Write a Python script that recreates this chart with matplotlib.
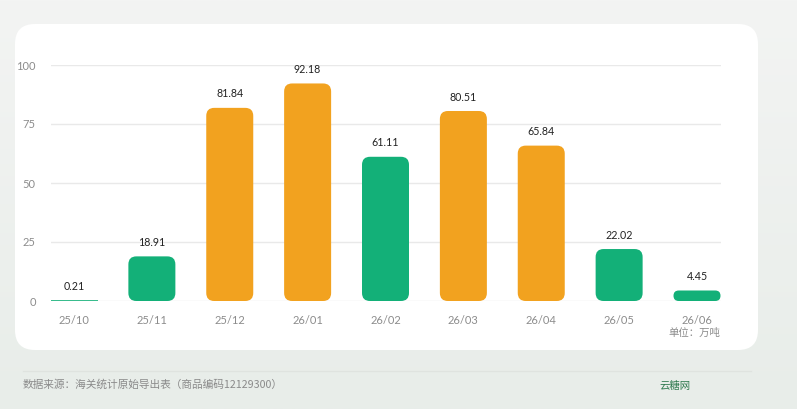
import matplotlib.pyplot as plt
import numpy as np
from matplotlib.patches import FancyBboxPatch
from matplotlib.colors import LinearSegmentedColormap

plt.rcParams['font.family'] = ['Lato', 'Noto Sans CJK SC', 'DejaVu Sans']

months = ['25/10', '25/11', '25/12', '26/01', '26/02', '26/03', '26/04', '26/05', '26/06']
values = [0.21, 18.91, 81.84, 92.18, 61.11, 80.51, 65.84, 22.02, 4.45]
colors = ['#13b078', '#13b078', '#f2a21f', '#f2a21f', '#13b078',
          '#f2a21f', '#f2a21f', '#13b078', '#13b078']
yticks = [0, 25, 50, 75, 100]

W, H = 797, 409
fig = plt.figure(figsize=(W / 100, H / 100), dpi=100)

# background gradient
bg = fig.add_axes([0, 0, 1, 1], zorder=-2)
grad = np.linspace(0, 1, 256).reshape(-1, 1)
cmap = LinearSegmentedColormap.from_list('bg', ['#f3f4f3', '#e8ede9'])
bg.imshow(grad, aspect='auto', cmap=cmap, extent=[0, 1, 0, 1])
bg.set_axis_off()

# white card
card = FancyBboxPatch((0.15, 0.59), 7.43, 3.26,
                      boxstyle='round,pad=0,rounding_size=0.2',
                      transform=fig.dpi_scale_trans, facecolor='white',
                      edgecolor='none', zorder=-1)
fig.patches.append(card)

x0px, x1px = 51, 721
ytop, ybot = 65, 301
ax = fig.add_axes([x0px / W, 1 - ybot / H, (x1px - x0px) / W, (ybot - ytop) / H])
ax.set_facecolor('none')

spacing = (697 - 74) / 8
ax.set_xlim((x0px - 74) / spacing, (x1px - 74) / spacing)
ax.set_ylim(0, 100)

px_x = 1 / spacing          # data units per pixel in x
px_y = 100 / (ybot - ytop)  # data units per pixel in y
bw = 47 * px_x

x = np.arange(len(months))
for xi, v, c in zip(x, values, colors):
    h_px = v / px_y
    r_px = min(8, h_px / 2, 23.5)
    if h_px < 1.5:
        ax.plot([xi - bw / 2, xi + bw / 2], [v, v], color=c, lw=1.2,
                solid_capstyle='butt', zorder=3)
    else:
        p = FancyBboxPatch((xi - bw / 2, 0), bw, v,
                           boxstyle=f'round,pad=0,rounding_size={r_px * px_x}',
                           mutation_aspect=px_y / px_x,
                           facecolor=c, edgecolor='none', zorder=3)
        ax.add_patch(p)
    ax.annotate(f'{v:.2f}', (xi, v), xytext=(0, 10), textcoords='offset points',
                ha='center', va='center', fontsize=7.7, color='#222222')

ax.set_yticks(yticks)
ax.set_yticklabels([str(t) for t in yticks])
ax.set_xticks(x)
ax.set_xticklabels(months)
ax.grid(axis='y', color='#e9e9e9', lw=1)
ax.set_axisbelow(True)
for s in ax.spines.values():
    s.set_visible(False)
ax.tick_params(axis='both', length=0, colors='#8c8c8c', labelsize=8)
ax.tick_params(axis='y', pad=11)
ax.tick_params(axis='x', pad=10)

fig.text(720 / W, 1 - 333 / H, '单位：万吨', ha='right', va='center',
         fontsize=7.5, color='#8c8c8c')

# footer
fig.add_artist(plt.Line2D([23 / W, 751 / W], [1 - 371 / H, 1 - 371 / H],
                          transform=fig.transFigure, color='#dfe3df', lw=1))
fig.text(23 / W, 1 - 385 / H, '数据来源：海关统计原始导出表（商品编码12129300）',
         ha='left', va='center', fontsize=7.7, color='#8a8a8a',
         family=['Noto Sans CJK SC', 'DejaVu Sans'])
fig.text(659 / W, 1 - 386 / H, '云糖网', ha='left', va='center',
         fontsize=7.5, color='#2f7a4f', family=['Noto Sans CJK SC', 'DejaVu Sans'])

fig.savefig('out.png', dpi=100)
